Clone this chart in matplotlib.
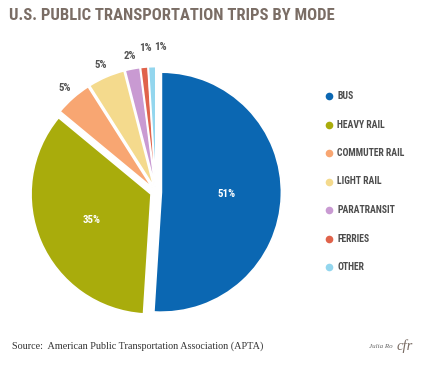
"""U.S. public transportation trips by mode -- pie chart."""
import matplotlib.pyplot as plt
import numpy as np
from matplotlib.lines import Line2D

modes = ["BUS", "HEAVY RAIL", "COMMUTER RAIL", "LIGHT RAIL",
         "PARATRANSIT", "FERRIES", "OTHER"]
shares = [51, 35, 5, 5, 2, 1, 1]
colors = ["#0b67b2", "#a9ac0c", "#f8a672", "#f4da8d",
          "#c99ad2", "#e0634b", "#93d6ee"]

COND = ["Roboto Condensed", "DejaVu Sans"]
SERIF = ["Liberation Serif", "DejaVu Serif"]

fig = plt.figure(figsize=(4.34, 3.65), dpi=100)
fig.patch.set_facecolor("white")

# pie axes: centre at ~(155, 192) px, radius ~118 px
ax = fig.add_axes([24 / 434, 41 / 365, 264 / 434, 264 / 365])
wedges, _ = ax.pie(shares, colors=colors, startangle=90, counterclock=False,
                   explode=[0.045] * len(shares), radius=1.0,
                   wedgeprops=dict(edgecolor="white", linewidth=1.2))
ax.set_xlim(-1.1, 1.1)
ax.set_ylim(-1.1, 1.1)
ax.set_aspect("equal")
ax.axis("off")

# percentage labels: inside for big slices, outside for small ones
prev_x = None
for w, v in zip(wedges, shares):
    mid = np.deg2rad((w.theta1 + w.theta2) / 2)
    cx, cy = w.center
    if v >= 30:
        r, col = 0.54, "white"
    else:
        r, col = (1.16 if v <= 1 else 1.11), "#555555"
    x = cx + r * np.cos(mid)
    y = cy + r * np.sin(mid)
    if v < 30:
        # keep the crowded outside labels apart
        if prev_x is not None and x - prev_x < 0.125:
            x = prev_x + 0.125
        prev_x = x
    ax.text(x, y, f"{v}%", ha="center", va="center", color=col,
            fontsize=7.8, fontweight="bold", family=COND)

fig.text(9 / 434, 1 - 15 / 365, "U.S. PUBLIC TRANSPORTATION TRIPS BY MODE",
         ha="left", va="center", fontsize=12, fontweight="bold",
         color="#7a6d65", family=COND)

# legend as dot + label rows
for i, (m, c) in enumerate(zip(modes, colors)):
    y = 1 - (96 + i * 28.5) / 365
    fig.add_artist(Line2D([329 / 434], [y], marker="o", markersize=5.5,
                          color=c, markeredgewidth=0, transform=fig.transFigure))
    fig.text(337 / 434, y, m, ha="left", va="center", fontsize=7,
             fontweight="bold", color="#4d4d4d", family=COND)

fig.text(12 / 434, 1 - 346 / 365,
         "Source:  American Public Transportation Association (APTA)",
         ha="left", va="center", fontsize=7.3, color="#333333", family=SERIF)
fig.text(369 / 434, 1 - 346 / 365, "Julia Ro", ha="left", va="center",
         fontsize=5, style="italic", color="#666666", family=SERIF)
fig.text(397 / 434, 1 - 346 / 365, "cfr", ha="left", va="center",
         fontsize=10.5, style="italic", color="#7a6d65", family=SERIF)

fig.savefig("out.png", dpi=100, facecolor="white")
